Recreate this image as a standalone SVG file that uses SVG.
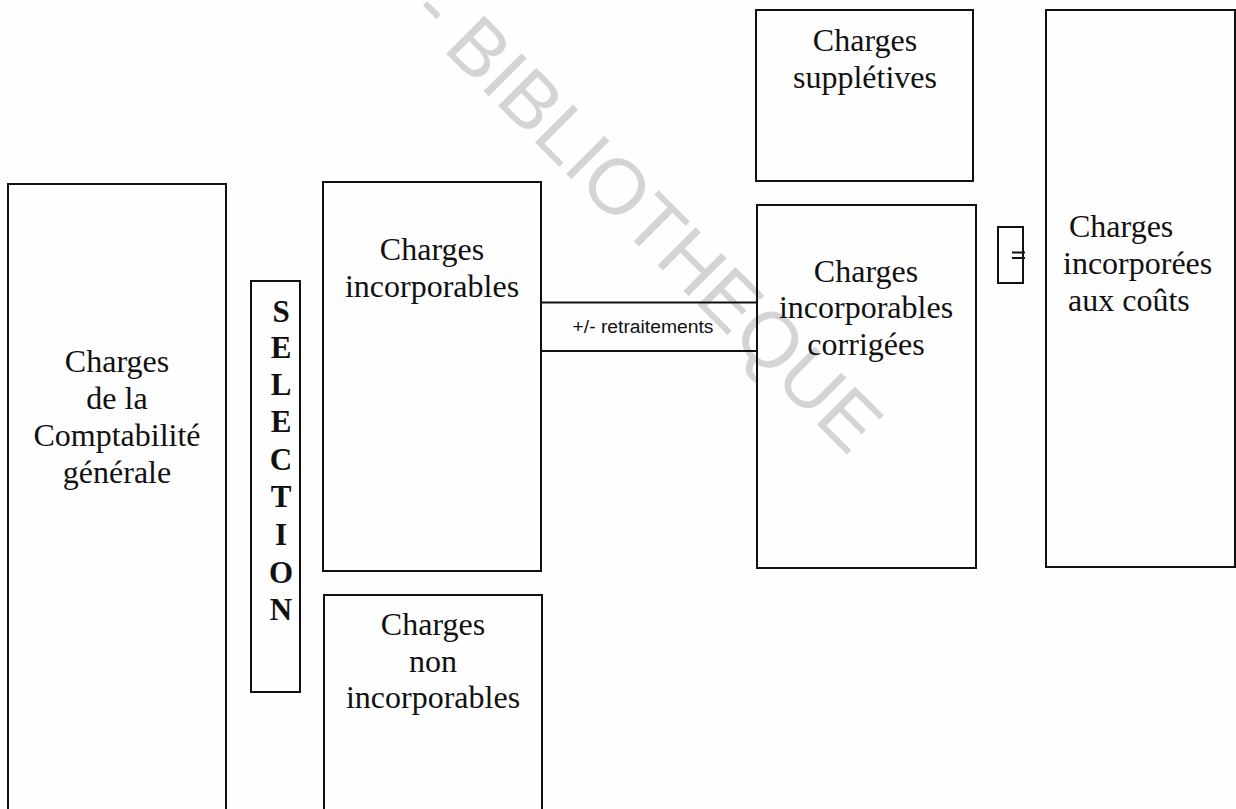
<svg xmlns="http://www.w3.org/2000/svg" width="1236" height="809" viewBox="0 0 1236 809">
  <style>
    .box { fill: none; stroke: #111; stroke-width: 2; }
    .lbl { font-family: "Liberation Serif", "Times New Roman", serif; font-size: 32px; fill: #111; text-anchor: middle; }
    .lbl-left { font-family: "Liberation Serif", "Times New Roman", serif; font-size: 32px; fill: #111; text-anchor: start; }
    .sel { font-family: "Liberation Serif", "Times New Roman", serif; font-size: 31px; font-weight: bold; fill: #111; text-anchor: middle; }
    .link { stroke: #111; stroke-width: 2; fill: none; }
    .link-lbl { font-family: "Liberation Sans", Arial, sans-serif; font-size: 18px; fill: #111; text-anchor: middle; }
    .wm { font-family: "Liberation Sans", Arial, sans-serif; font-size: 78px; fill: #d4d4d4; }
  </style>

  <rect width="1236" height="809" fill="#fefefe"/>

  <!-- background watermark -->
  <text class="wm" transform="translate(408,15.5) rotate(45)">- BIBLIOTHEQUE</text>

  <g id="charges-comptabilite-generale">
    <rect class="box" x="8" y="184" width="218" height="660"/>
    <text class="lbl" x="117" y="372">Charges</text>
    <text class="lbl" x="117" y="409">de la</text>
    <text class="lbl" x="117" y="446">Comptabilité</text>
    <text class="lbl" x="117" y="483">générale</text>
  </g>

  <g id="selection">
    <rect class="box" x="251" y="281" width="49" height="411"/>
    <text class="sel" x="281" y="322">S</text>
    <text class="sel" x="281" y="358">E</text>
    <text class="sel" x="281" y="395">L</text>
    <text class="sel" x="281" y="432">E</text>
    <text class="sel" x="281" y="470">C</text>
    <text class="sel" x="281" y="507">T</text>
    <text class="sel" x="281" y="545">I</text>
    <text class="sel" x="281" y="583">O</text>
    <text class="sel" x="281" y="620">N</text>
  </g>

  <g id="charges-incorporables">
    <rect class="box" x="323" y="182" width="218" height="389"/>
    <text class="lbl" x="432" y="260">Charges</text>
    <text class="lbl" x="432" y="297">incorporables</text>
  </g>

  <g id="charges-non-incorporables">
    <rect class="box" x="324" y="595" width="218" height="260"/>
    <text class="lbl" x="433" y="635">Charges</text>
    <text class="lbl" x="433" y="672">non</text>
    <text class="lbl" x="433" y="708">incorporables</text>
  </g>

  <g id="charges-suppletives">
    <rect class="box" x="756" y="10" width="217" height="171"/>
    <text class="lbl" x="865" y="51">Charges</text>
    <text class="lbl" x="865" y="88">supplétives</text>
  </g>

  <g id="charges-incorporables-corrigees">
    <rect class="box" x="757" y="205" width="219" height="363"/>
    <text class="lbl" x="866" y="282">Charges</text>
    <text class="lbl" x="866" y="318">incorporables</text>
    <text class="lbl" x="866" y="355">corrigées</text>
  </g>

  <g id="egal">
    <rect class="box" x="998" y="227" width="25" height="56"/>
    <line class="link" x1="1012" y1="252.5" x2="1025" y2="252.5" stroke-width="1.6"/>
    <line class="link" x1="1012" y1="258" x2="1025" y2="258" stroke-width="1.6"/>
  </g>

  <g id="charges-incorporees-aux-couts">
    <rect class="box" x="1046" y="10" width="189" height="557"/>
    <text class="lbl-left" x="1069" y="237">Charges</text>
    <text class="lbl-left" x="1063" y="274">incorporées</text>
    <text class="lbl-left" x="1068" y="311">aux coûts</text>
  </g>

  <g id="connectors">
    <line class="link" x1="541" y1="302.5" x2="757" y2="302.5"/>
    <line class="link" x1="541" y1="351" x2="757" y2="351"/>
    <text class="link-lbl" x="643" y="333" textLength="141" lengthAdjust="spacingAndGlyphs">+/- retraitements</text>
  </g>
</svg>
